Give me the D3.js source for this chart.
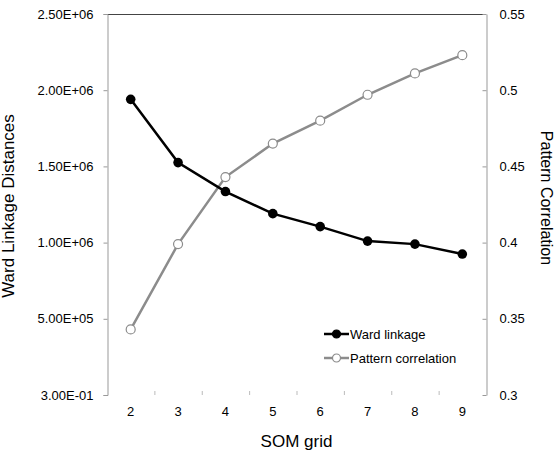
<html>
  <head>
    <script src="https://cdn.jsdelivr.net/npm/d3@7"></script>
    <style>
      body { margin: 0; background: #fff; }
      text { font-family: "Liberation Sans", Arial, sans-serif; fill: #000; }
    </style>
  </head>
  <body>
    <svg width="555" height="452"></svg>

    <script type="text/javascript">
      // SOM grid sizes
      var categories = [2, 3, 4, 5, 6, 7, 8, 9];
      // Ward linkage distances (left axis)
      var wardValues = [1940000, 1525000, 1335000, 1190000, 1105000, 1010000, 990000, 925000];
      // Pattern correlation (right axis)
      var corrValues = [0.343, 0.399, 0.443, 0.465, 0.480, 0.497, 0.511, 0.523];
      // tick labels
      var leftTicks = [0.3, 500000, 1000000, 1500000, 2000000, 2500000];
      var leftLabels = ['3.00E-01', '5.00E+05', '1.00E+06', '1.50E+06', '2.00E+06', '2.50E+06'];
      var rightTicks = [0.3, 0.35, 0.4, 0.45, 0.5, 0.55];
      var rightLabels = ['0.3', '0.35', '0.4', '0.45', '0.5', '0.55'];

      // plot box
      var pL = 107, pR = 486, pT = 14, pB = 395;
      var svg = d3.select('svg');

      var x = d3.scaleBand().domain(categories).range([pL, pR]);
      var yL = d3.scaleLinear().domain([0.3, 2500000]).range([pB, pT]);
      var yR = d3.scaleLinear().domain([0.3, 0.55]).range([pB, pT]);

      // top border
      svg.append('line')
        .attr('x1', pL).attr('x2', pR)
        .attr('y1', pT + 0.5).attr('y2', pT + 0.5)
        .attr('stroke', '#444').attr('stroke-width', 1);

      // left axis
      var gL = svg.append('g')
        .attr('transform', 'translate(' + (pL + 0.5) + ',0)')
        .call(d3.axisLeft(yL).tickValues(leftTicks).tickSize(4).tickPadding(10)
          .tickFormat(function(d, i) { return leftLabels[i]; }));
      gL.select('.domain').attr('stroke', '#999');
      gL.selectAll('.tick line').attr('stroke', '#999');
      gL.selectAll('text').style('font-size', '13px').attr('fill', '#000');

      // right axis
      var gR = svg.append('g')
        .attr('transform', 'translate(' + (pR + 0.5) + ',0)')
        .call(d3.axisRight(yR).tickValues(rightTicks).tickSize(0).tickPadding(13)
          .tickFormat(function(d, i) { return rightLabels[i]; }));
      gR.select('.domain').attr('stroke', '#999');
      gR.selectAll('.tick').append('line')
        .attr('x1', -4).attr('x2', 0).attr('stroke', '#999');
      gR.selectAll('text').style('font-size', '13px').attr('fill', '#000');

      // bottom axis (ticks only)
      var gB = svg.append('g')
        .attr('transform', 'translate(0,' + pB + ')')
        .call(d3.axisBottom(x).tickSize(0).tickPadding(12));
      gB.select('.domain').remove();
      gB.selectAll('text').style('font-size', '13px').attr('fill', '#000');
      gB.selectAll('.sep').data(categories.slice(1))
        .enter().append('line')
        .attr('x1', function(d) { return x(d) + 0.5; })
        .attr('x2', function(d) { return x(d) + 0.5; })
        .attr('y1', -4).attr('y2', 0)
        .attr('stroke', '#bbb');

      // axis titles
      svg.append('text')
        .attr('transform', 'translate(14,206) rotate(-90)')
        .attr('text-anchor', 'middle')
        .style('font-size', '17px')
        .text('Ward Linkage Distances');
      svg.append('text')
        .attr('transform', 'translate(541,198) rotate(90)')
        .attr('text-anchor', 'middle')
        .style('font-size', '16px')
        .text('Pattern Correlation');
      svg.append('text')
        .attr('x', (pL + pR) / 2).attr('y', 447)
        .attr('text-anchor', 'middle')
        .style('font-size', '17px')
        .text('SOM grid');

      var cx = function(d, i) { return x(categories[i]) + x.bandwidth() / 2; };

      // pattern correlation series
      var lineR = d3.line().x(cx).y(function(d) { return yR(d); });
      svg.append('path').datum(corrValues)
        .attr('d', lineR).attr('fill', 'none')
        .attr('stroke', '#8c8c8c').attr('stroke-width', 2.5);
      svg.selectAll('.corr').data(corrValues).enter().append('circle')
        .attr('class', 'corr')
        .attr('cx', cx).attr('cy', function(d) { return yR(d); })
        .attr('r', 4.5).attr('fill', '#fff')
        .attr('stroke', '#8c8c8c').attr('stroke-width', 1.2);

      // ward linkage series
      var lineL = d3.line().x(cx).y(function(d) { return yL(d); });
      svg.append('path').datum(wardValues)
        .attr('d', lineL).attr('fill', 'none')
        .attr('stroke', '#000').attr('stroke-width', 2.5);
      svg.selectAll('.ward').data(wardValues).enter().append('circle')
        .attr('class', 'ward')
        .attr('cx', cx).attr('cy', function(d) { return yL(d); })
        .attr('r', 4.8).attr('fill', '#000');

      // legend
      var legend = [
        { name: 'Ward linkage', color: '#000', fill: '#000', y: 334 },
        { name: 'Pattern correlation', color: '#8c8c8c', fill: '#fff', y: 358 }
      ];
      var lg = svg.selectAll('.legend').data(legend).enter().append('g')
        .attr('transform', function(d) { return 'translate(324,' + d.y + ')'; });
      lg.append('line')
        .attr('x1', 0).attr('x2', 25)
        .attr('stroke', function(d) { return d.color; }).attr('stroke-width', 2.5);
      lg.append('circle')
        .attr('cx', 12.5).attr('r', 4)
        .attr('fill', function(d) { return d.fill; })
        .attr('stroke', function(d) { return d.color; }).attr('stroke-width', 1.2);
      lg.append('text')
        .attr('x', 26).attr('dy', '0.35em')
        .style('font-size', '13px')
        .text(function(d) { return d.name; });
    </script>
  </body>
</html>
